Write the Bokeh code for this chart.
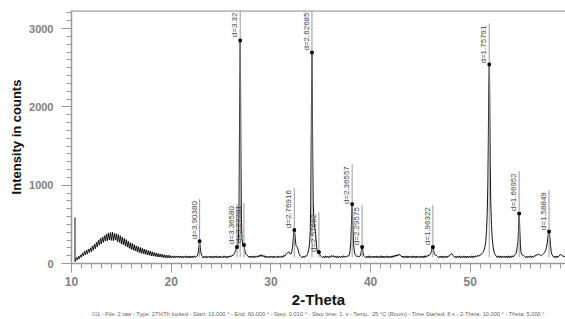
import math
import numpy as np
from bokeh.plotting import figure
from bokeh.models import (ColumnDataSource, SingleIntervalTicker, Range1d, Span,
                          LinearAxis, FixedTicker)
from bokeh.core.properties import value
from bokeh.embed import file_html
from bokeh.resources import INLINE

# ---------------- data ----------------
scan_step = 0.1

# noisy scan stretches: (start 2-theta, counts at scan_step)
hump_start = 10.4
hump_counts = [30, 75, 45, 95, 60, 110,
               80, 135, 95, 155, 110, 170, 120, 185, 140, 200,
               150, 225, 170, 245, 190, 270, 210, 295, 235, 320,
               250, 335, 270, 355, 285, 375, 290, 390, 300, 395,
               295, 400, 290, 385, 300, 380, 280, 370, 270, 355,
               250, 335, 240, 320, 225, 305, 210, 285, 195, 265,
               180, 255, 170, 240, 160, 225, 150, 215, 140, 205,
               130, 195, 125, 185, 118, 175, 112, 165, 105, 158,
               98, 150, 95, 140, 90, 135, 85, 128, 82, 122,
               80, 118, 76, 112, 74, 108, 72, 105, 70, 102,
               72, 96, 75, 98, 70, 94, 76, 97, 72, 95,
               74, 96, 70, 93, 75, 98, 72, 94, 70, 96,
               73, 95, 72, 98, 80]
base2_start = 23.2
base2_counts = [70, 92, 74, 95, 71, 90, 76, 96, 72, 93, 70, 94, 75, 97, 73,
                92, 71, 96, 74, 90, 72, 98, 76, 93, 70, 95, 78, 99, 85, 105]
base3_start = 27.8
base3_counts = [80, 96, 72, 94, 76, 98, 74, 92, 78, 100, 84, 110, 90, 112, 86,
                102, 78, 96, 74, 92, 72, 95, 76, 93, 71, 96, 75, 90, 73, 97,
                74, 92, 76, 98, 80, 104, 92, 118, 130]
base4_start = 33.15
base4_counts = [72, 94, 76, 98, 90]
base5_start = 35.2
base5_counts = [74, 95, 72, 98, 76, 93, 71, 96, 80, 104, 84, 100, 76, 94, 72,
                97, 75, 92, 73, 96, 76, 99, 78, 95, 82, 100]
base6_start = 39.55
base6_counts = [72, 95, 74, 98, 70, 93, 76, 96, 72, 94,
                75, 97, 71, 92, 74, 99, 73, 95, 70, 93,
                76, 98, 72, 94, 75, 96, 73, 100, 82, 108,
                90, 112, 96, 118, 110, 98, 80, 96, 72, 94,
                74, 97, 71, 95, 76, 93, 72, 98, 74, 94,
                70, 96, 75, 92, 73, 97, 76, 95, 72, 99,
                80, 102, 92, 110]
base7_start = 46.85
base7_counts = [72, 95, 74, 97, 71, 93, 76, 96, 73, 94,
                90, 110, 118, 125, 105, 88, 74, 96, 72, 94,
                75, 98, 71, 92, 74, 97, 73, 95, 70, 96,
                76, 93, 72, 98, 74, 96, 80, 100, 85, 105,
                92, 110, 108, 125, 140]
base8_start = 52.7
base8_counts = [78, 98, 74, 95, 72, 97, 76, 93, 73, 96, 75, 98, 72, 94, 76,
                100, 82, 104, 112]
base9_start = 55.55
base9_counts = [74, 96, 72, 94, 76, 98, 73, 95, 80, 102, 95, 115, 108, 118,
                112, 105, 100, 112, 125]
base10_start = 58.4
base10_counts = [76, 95, 72, 97, 80, 100, 108, 115, 100, 96, 85, 98]

# peak profiles: explicit (2-theta, counts)
spike_theta = [10.35, 10.35, 10.38]
spike_counts = [590, 25, 30]
p1_theta = [22.6, 22.68, 22.75, 22.8, 22.85, 22.9, 22.96, 23.05, 23.15]
p1_counts = [95, 120, 170, 240, 285, 225, 150, 105, 88]
p2_theta = [26.2, 26.3, 26.38, 26.45, 26.52, 26.58, 26.63, 26.68, 26.74, 26.8,
            26.85, 26.89, 26.92, 26.95, 26.99, 27.04, 27.1, 27.16, 27.22,
            27.27, 27.31, 27.36, 27.42, 27.5, 27.6, 27.7]
p2_counts = [100, 120, 140, 165, 190, 210, 195, 230, 300, 650,
             1700, 2500, 2847, 2500, 1500, 600, 320, 250, 225,
             236, 230, 190, 150, 120, 105, 95]
p3_theta = [31.7, 31.8, 31.9, 32.0, 32.1, 32.18, 32.25, 32.3, 32.35, 32.4,
            32.46, 32.52, 32.6, 32.68, 32.76, 32.85, 32.95, 33.05]
p3_counts = [140, 150, 125, 120, 150, 220, 330, 400, 427, 390,
             300, 230, 215, 200, 160, 115, 95, 85]
p4_theta = [33.6, 33.7, 33.8, 33.88, 33.95, 34.0, 34.05, 34.09, 34.12, 34.15,
            34.19, 34.24, 34.3, 34.37, 34.45, 34.53, 34.6, 34.66, 34.72,
            34.78, 34.82, 34.86, 34.92, 35.0, 35.1]
p4_counts = [100, 130, 180, 260, 420, 800, 1700, 2400, 2694, 2400,
             1500, 800, 600, 480, 420, 300, 200, 150, 130,
             140, 146, 130, 110, 92, 82]
p5_theta = [37.8, 37.88, 37.95, 38.02, 38.08, 38.12, 38.15, 38.18, 38.22,
            38.28, 38.35, 38.43, 38.52, 38.62, 38.72, 38.82, 38.92, 39.0,
            39.06, 39.11, 39.15, 39.19, 39.24, 39.3, 39.38, 39.48]
p5_counts = [95, 120, 170, 280, 500, 700, 758, 700, 500,
             280, 170, 120, 100, 88, 95, 85, 92, 110,
             150, 195, 210, 190, 140, 105, 90, 82]
p6_theta = [45.95, 46.03, 46.1, 46.16, 46.21, 46.25, 46.29, 46.34, 46.4,
            46.47, 46.55, 46.65, 46.75]
p6_counts = [110, 130, 155, 185, 205, 210, 195, 160, 125, 110, 108, 95, 85]
p7_theta = [51.35, 51.45, 51.55, 51.63, 51.7, 51.76, 51.81, 51.85, 51.88,
            51.9, 51.93, 51.96, 52.0, 52.05, 52.12, 52.2, 52.3, 52.4, 52.5,
            52.6]
p7_counts = [160, 200, 280, 420, 650, 1000, 1600, 2200, 2450,
             2541, 2400, 2000, 1300, 800, 500, 320, 200, 140, 110, 95]
p8_theta = [54.58, 54.65, 54.72, 54.78, 54.83, 54.87, 54.9, 54.93, 54.97,
            55.02, 55.08, 55.15, 55.22, 55.3, 55.38, 55.46]
p8_counts = [125, 160, 230, 270, 420, 590, 637, 580, 420, 250, 150, 115,
             105, 112, 100, 88]
p9_theta = [57.45, 57.55, 57.63, 57.7, 57.76, 57.82, 57.87, 57.9, 57.94,
            57.99, 58.05, 58.12, 58.2, 58.3]
p9_counts = [140, 165, 200, 250, 310, 370, 400, 408, 385, 320, 230, 150,
             110, 90]

# peak annotations
peak_theta = [22.85, 26.6, 26.92, 27.3, 32.35, 34.12, 34.82, 38.15, 39.15,
              46.25, 51.9, 54.9, 57.9]
peak_counts = [285, 210, 2847, 236, 427, 2694, 146, 758, 210, 210, 2541,
               637, 408]
label_top = [822, 758, 3230, 770, 962, 3230, 656, 1268, 745, 745, 3064,
             1178, 936]
peak_labels = ["d=3.90380", "d=3.36580", "d=3.32", "d=3.27281", "d=2.76916",
               "d=2.62685", "d=2.57662", "d=2.36557", "d=2.29575",
               "d=1.96322", "d=1.75791", "d=1.66952", "d=1.58849"]

footer = ("\u22a11 - File: 2.raw - Type: 2Th/Th locked - Start: 10.000 \u00b0 - End: 60.000 \u00b0 - "
          "Step: 0.010 \u00b0 - Step time: 1. s - Temp.: 25 \u00b0C (Room) - Time Started: 8 s - "
          "2-Theta: 10.000 \u00b0 - Theta: 5.000 \u00b0")

# ---------------- assemble pattern ----------------
xs, ys = [], []
for start, cnts in [(hump_start, hump_counts), (base2_start, base2_counts),
                    (base3_start, base3_counts), (base4_start, base4_counts),
                    (base5_start, base5_counts), (base6_start, base6_counts),
                    (base7_start, base7_counts), (base8_start, base8_counts),
                    (base9_start, base9_counts), (base10_start, base10_counts)]:
    for i, c in enumerate(cnts):
        xs.append(round(start + scan_step * i, 3))
        ys.append(c)
for th, cn in [(spike_theta, spike_counts), (p1_theta, p1_counts),
               (p2_theta, p2_counts), (p3_theta, p3_counts),
               (p4_theta, p4_counts), (p5_theta, p5_counts),
               (p6_theta, p6_counts), (p7_theta, p7_counts),
               (p8_theta, p8_counts), (p9_theta, p9_counts)]:
    xs.extend(th)
    ys.extend(cn)
order = np.argsort(np.array(xs), kind="stable")
xs = [float(v) for v in np.array(xs)[order]]
ys = [float(v) for v in np.array(ys)[order]]

# ---------------- figure ----------------
FONT = "Liberation Sans"
p = figure(width=565, height=319, output_backend="svg", toolbar_location=None,
           x_range=Range1d(10, 59.55), y_range=Range1d(0, 3230),
           min_border_left=71, min_border_top=10, min_border_right=0,
           min_border_bottom=56, outline_line_color=None,
           background_fill_color="white", border_fill_color="white")
p.grid.visible = False

# top frame line
p.add_layout(Span(location=3226, dimension="width", line_color="#a0a0a0",
                  line_width=2))

# data line
p.line(xs, ys, line_color="#111111", line_width=1)

# sticks + markers + labels
src = ColumnDataSource(dict(x=peak_theta, y=peak_counts, top=label_top,
                            base=[80] * len(peak_theta), text=peak_labels))
p.segment(x0="x", y0="base", x1="x", y1="top", source=src,
          line_color="#9a9a9a", line_width=1)
p.scatter(x="x", y="y", source=src, marker="square", size=2.5,
          fill_color="#000000", line_color="#000000")
p.text(x="x", y="top", text="text", source=src, angle=math.pi / 2,
       text_align="right", text_baseline="bottom", x_offset=-1, y_offset=2,
       text_font=value(FONT), text_font_size="8px", text_color="#444444")

# axes
xa = p.xaxis[0]
xa.ticker = SingleIntervalTicker(interval=10, num_minor_ticks=10)
ya = p.yaxis[0]
ya.ticker = SingleIntervalTicker(interval=1000, num_minor_ticks=10)
for ax in (xa, ya):
    ax.axis_line_color = "#999999"
    ax.axis_line_width = 1.5
    ax.major_tick_line_color = "#999999"
    ax.minor_tick_line_color = "#999999"
    ax.major_tick_in = 0
    ax.minor_tick_in = 0
    ax.minor_tick_out = 5
    ax.major_label_text_font = FONT
    ax.major_label_text_font_style = "bold"
    ax.major_label_text_color = "#808080"
    ax.axis_label_text_font = FONT
    ax.axis_label_text_font_style = "bold"
    ax.axis_label_text_color = "#111111"
xa.major_tick_out = 9
xa.major_label_standoff = 4
xa.major_label_text_font_size = "12px"
xa.axis_label = "2-Theta"
xa.axis_label_text_font_size = "15px"
xa.axis_label_standoff = 2
ya.major_tick_out = 10
ya.major_label_standoff = 8
ya.major_label_text_font_size = "11px"
ya.axis_label = "Intensity in counts"
ya.axis_label_text_font_size = "13px"
ya.axis_label_standoff = 2

# footer line of the diffractometer (label-only axis under the x axis)
foot = LinearAxis(ticker=FixedTicker(ticks=[]), axis_line_color=None,
                  major_tick_out=0, major_tick_in=0, minor_tick_out=0,
                  minor_tick_in=0, major_label_standoff=0,
                  axis_label=footer, axis_label_standoff=0,
                  axis_label_text_font=FONT, axis_label_text_font_size="5.7px",
                  axis_label_text_font_style="normal",
                  axis_label_text_color="#666666")
p.add_layout(foot, "below")

open("out.html", "w").write(file_html(p, INLINE))
